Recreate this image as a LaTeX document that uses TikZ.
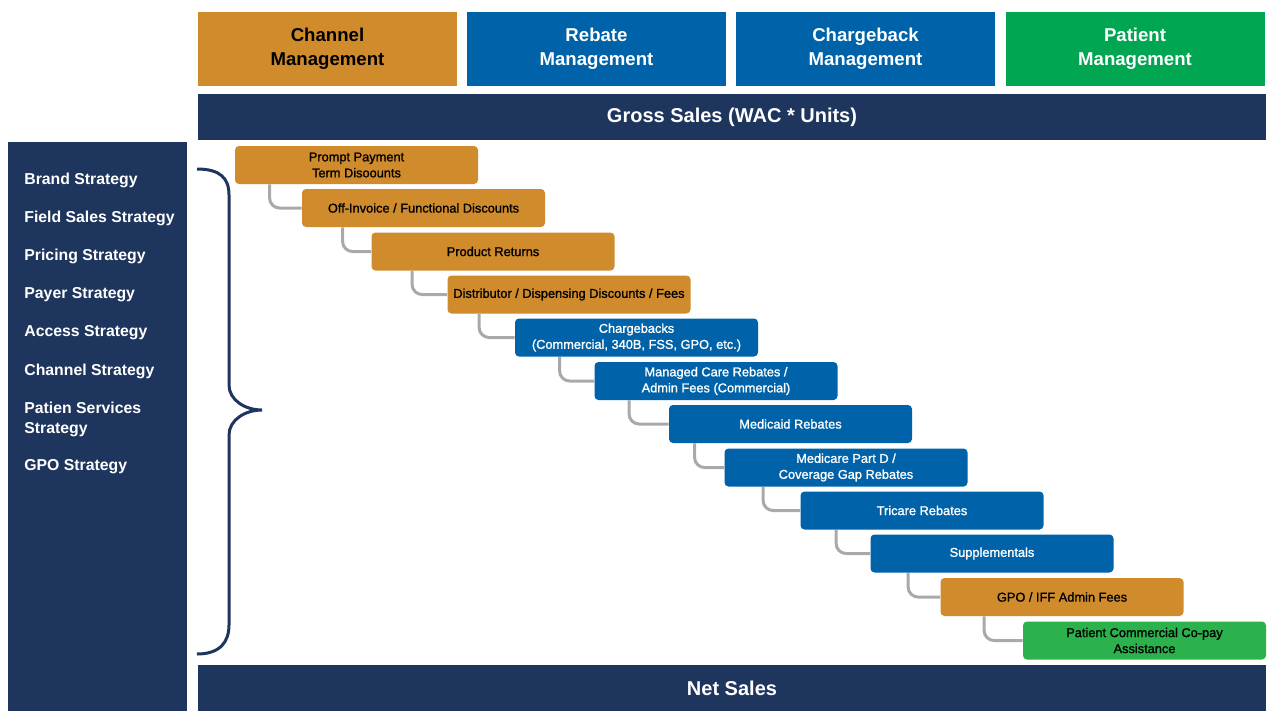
\documentclass[tikz,border=0pt]{standalone}
\usepackage{fontspec}
\setmainfont{Liberation Sans}
\newfontfamily\stepfont[FakeBold=1.2]{Liberation Sans}
\usepackage{tikz}
\usetikzlibrary{calc,backgrounds}
\definecolor{navy1}{HTML}{1E355E}
\definecolor{orange1}{HTML}{CF8B2C}
\definecolor{blue1}{HTML}{0063A9}
\definecolor{green1}{HTML}{00A651}
\definecolor{green2}{HTML}{2BB24C}
\definecolor{link}{HTML}{A7A9AC}

\begin{document}
\begin{tikzpicture}[x=0.5pt,y=-0.5pt,
    head/.style={minimum width=129.5pt,minimum height=37pt,inner sep=0pt,align=center,
                 font=\fontsize{9.3}{12}\selectfont\bfseries},
    bar/.style={fill=navy1,text=white,minimum width=534pt,minimum height=23pt,inner sep=0pt,
                font=\fontsize{10}{12}\selectfont\bfseries},
    stepbox/.style={rounded corners=2pt,minimum width=121.5pt,minimum height=19pt,inner sep=0pt,
                    align=center,font=\stepfont\fontsize{6.4}{8}\selectfont},
    strat/.style={anchor=west,text=white,align=left,inner sep=0pt,
                  font=\fontsize{7.9}{10}\selectfont\bfseries},
    conn/.style={link,line width=1.5pt,rounded corners=5pt}]
  \useasboundingbox (0,0) rectangle (1280,720);

  \node[head,fill=orange1,text=black] (chan) at (327.5,49) {Channel\\Management};
  \node[head,fill=blue1,text=white]   (reb)  at (596.5,49) {Rebate\\Management};
  \node[head,fill=blue1,text=white]   (chb)  at (865.5,49) {Chargeback\\Management};
  \node[head,fill=green1,text=white]  (pat)  at (1135,49)  {Patient\\Management};
  \node[bar] (gross) at (732,117) {Gross Sales (WAC * Units)};
  \node[bar] (net)   at (732,688) {Net Sales};

  \node[fill=navy1,minimum width=89.5pt,minimum height=284.5pt,inner sep=0pt] (panel) at (97.5,426.5) {};
  \foreach \y/\t [count=\i] in {180/Brand Strategy,218/Field Sales Strategy,256/Pricing Strategy,
      295/Payer Strategy,333/Access Strategy,371/Channel Strategy,
      419/{Patien Services\\Strategy},467/GPO Strategy}
    \node[strat] (st\i) at (24,\y) {\t};

  \draw[navy1,line width=1.5pt] (197,169) .. controls (220,169) and (229,178) .. (229,195)
    -- (229,385) .. controls (229,400) and (245,410) .. (262,410)
    .. controls (245,410) and (229,420) .. (229,435)
    -- (229,625) .. controls (229,642) and (220,654) .. (197,654);

  \node[stepbox,fill=orange1] (s1)  at (356.5,165)  {Prompt Payment\\Term Disoounts};
  \node[stepbox,fill=orange1] (s2)  at (423.5,208)  {Off-Invoice / Functional Discounts};
  \node[stepbox,fill=orange1] (s3)  at (493,251.5)  {Product Returns};
  \node[stepbox,fill=orange1] (s4)  at (569,294.5)  {Distributor / Dispensing Discounts / Fees};
  \node[stepbox,fill=blue1,text=white] (s5)  at (636.5,337.5) {Chargebacks\\(Commercial, 340B, FSS, GPO, etc.)};
  \node[stepbox,fill=blue1,text=white] (s6)  at (716,381)    {Managed Care Rebates /\\Admin Fees (Commercial)};
  \node[stepbox,fill=blue1,text=white] (s7)  at (790.5,424)  {Medicaid Rebates};
  \node[stepbox,fill=blue1,text=white] (s8)  at (846,467.5)  {Medicare Part D /\\Coverage Gap Rebates};
  \node[stepbox,fill=blue1,text=white] (s9)  at (922,510.5)  {Tricare Rebates};
  \node[stepbox,fill=blue1,text=white] (s10) at (992,553.5)  {Supplementals};
  \node[stepbox,fill=orange1] (s11) at (1062,597)   {GPO / IFF Admin Fees};
  \node[stepbox,fill=green2]  (s12) at (1144.5,640.5) {Patient Commercial Co-pay\\Assistance};

  \begin{scope}[on background layer]
    \foreach \a/\b/\d in {1/2/35,2/3/41,3/4/41,4/5/32,5/6/45,6/7/35,7/8/26,8/9/39,9/10/36,10/11/38,11/12/44}
      \draw[conn] ($(s\a.south west)+(\d,0)$) |- (s\b.west);
  \end{scope}
\end{tikzpicture}
\end{document}
